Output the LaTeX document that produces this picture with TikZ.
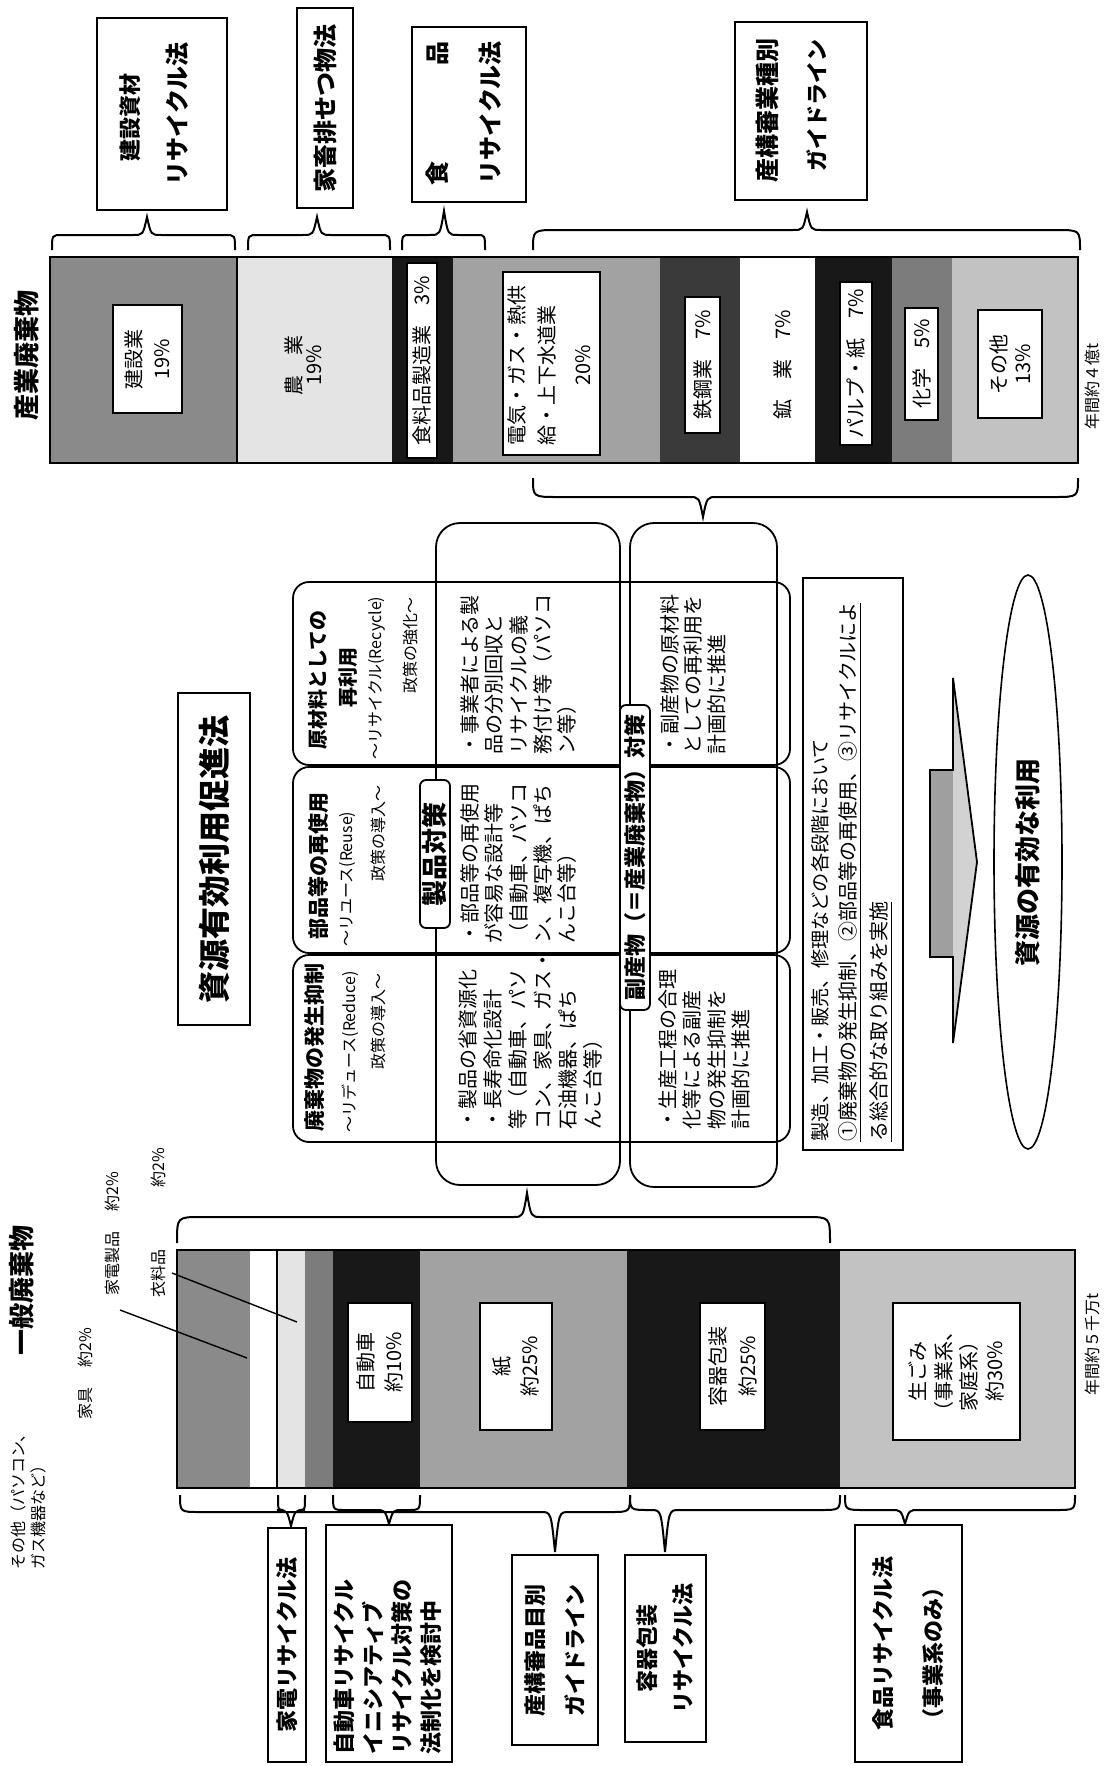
\documentclass[tikz,border=0pt]{standalone}
\usepackage{fontspec}
\setmainfont{Noto Sans CJK JP}
\usetikzlibrary{fit,shapes.geometric}
\definecolor{gA}{HTML}{8A8A8A}
\definecolor{gB}{HTML}{E4E4E4}
\definecolor{gC}{HTML}{181818}
\definecolor{gD}{HTML}{A2A2A2}
\definecolor{gE}{HTML}{3A3A3A}
\definecolor{gF}{HTML}{7C7C7C}
\definecolor{gG}{HTML}{C2C2C2}
\newcommand\mybr[7]{\draw[brc] (#1,#4) .. controls (#1,#5) .. (#1+#7,#5) -- (#3-14,#5) .. controls (#3-4,#5) .. (#3,#6) .. controls (#3+4,#5) .. (#3+14,#5) -- (#2-#7,#5) .. controls (#2,#5) .. (#2,#4);}
\newcommand\myfs[2]{\fontsize{#1}{#2}\selectfont}
\begin{document}
\begin{tikzpicture}[x=0.5pt,y=-0.5pt,
  rt/.style={rotate=90,inner sep=0pt},
  bx/.style={draw,line width=0.8pt,fill=white,inner sep=0pt},
  brc/.style={line width=1pt},
  ln/.style={line width=0.9pt},
  ldr/.style={line width=0.7pt}]
\fill[white] (0,0) rectangle (1110,1766);
\useasboundingbox (0,0) rectangle (1110,1766);
% ===== 産業廃棄物 bar =====
\node[rt,font=\bfseries\myfs{13pt}{13pt}] (t1) at (27,355) {産業廃棄物};
\fill[gA] (50,257) rectangle (237,463);
\fill[gB] (237,257) rectangle (392,463);
\fill[gC] (392,257) rectangle (453,463);
\fill[gD] (453,257) rectangle (660,463);
\fill[gE] (660,257) rectangle (740,463);
\fill[white] (740,257) rectangle (815,463);
\fill[gC] (815,257) rectangle (892,463);
\fill[gF] (892,257) rectangle (952,463);
\fill[gG] (952,257) rectangle (1078,463);
\draw[ln] (237,257) -- (237,463);
\node[draw,line width=1pt,fit={(50,257) (1078,463)},inner sep=0pt] (ibar) {};
\node[bx,fit={(113,305) (182,413)}] (b1) {};
\node[rt,align=center,font=\myfs{10pt}{14pt}] at (b1) {建設業\\19\%};
\node[rt,align=center,font=\myfs{10pt}{10pt}] (b2) at (303,365) {農　業\\19\%};
\node[bx,fit={(407,263) (437,458)}] (b3) {};
\node[rt,font=\myfs{10pt}{10pt}] at (b3) {食料品製造業　3\%};
\node[bx,fit={(503,272) (600,455)}] (b4) {};
\node[rt,anchor=west,font=\myfs{10pt}{10pt}] at (517,446) {電気・ガス・熱供};
\node[rt,anchor=west,font=\myfs{10pt}{10pt}] at (547,446) {給・上下水道業};
\node[rt,font=\myfs{10pt}{10pt}] at (583,365) {20\%};
\node[bx,fit={(685,297) (720,433)}] (b5) {};
\node[rt,font=\myfs{10pt}{10pt}] at (b5) {鉄鋼業　7\%};
\node[rt,font=\myfs{10pt}{10pt}] (b6) at (783,365) {鉱　業　7\%};
\node[bx,fit={(840,282) (872,445)}] (b7) {};
\node[rt,font=\myfs{10pt}{10pt}] at (b7) {パルプ・紙　7\%};
\node[bx,fit={(905,308) (938,420)}] (b8) {};
\node[rt,font=\myfs{10pt}{10pt}] at (b8) {化学　5\%};
\node[bx,fit={(978,310) (1042,418)}] (b9) {};
\node[rt,align=center,font=\myfs{10pt}{12pt}] at (b9) {その他\\13\%};
\node[rt,anchor=east,font=\myfs{8pt}{8pt}] (t2) at (1092,343) {年間約４億t};
% top law boxes
\node[bx,fit={(97,18) (227,210)}] (L1) {};
\node[rt,font=\bfseries\myfs{11pt}{11pt}] at (130,118) {建設資材};
\node[rt,font=\bfseries\myfs{12pt}{12pt}] at (177,114) {リサイクル法};
\node[bx,fit={(297,8) (353,208)}] (L2) {};
\node[rt,font=\bfseries\myfs{12pt}{12pt}] at (L2) {家畜排せつ物法};
\node[bx,fit={(412,27) (526,202)}] (L3) {};
\node[rt,font=\bfseries\myfs{12pt}{12pt}] at (437,113) {食\hspace{48pt}品};
\node[rt,font=\bfseries\myfs{12pt}{12pt}] at (490,113) {リサイクル法};
\node[bx,fit={(735,22) (867,200)}] (L4) {};
\node[rt,font=\bfseries\myfs{12pt}{12pt}] at (767,111) {産構審業種別};
\node[rt,font=\bfseries\myfs{11pt}{11pt}] at (817,105) {ガイドライン};
% braces
\mybr{52}{235}{147}{250}{235}{217}{10}
\mybr{248}{390}{317}{250}{235}{217}{10}
\mybr{402}{485}{444}{250}{235}{211}{8}
\mybr{533}{1080}{807}{250}{230}{212}{24}
\mybr{533}{1078}{703}{478}{497}{517}{24}
% ===== middle =====
\node[draw,line width=1pt,fit={(178,693) (250,1025)},inner sep=0pt] (M0) {};
\node[rt,font=\bfseries\myfs{16pt}{16pt}] at (M0) {資源有効利用促進法};
\draw[ln,rounded corners=8pt] (293,582) rectangle (790,765);
\draw[ln,rounded corners=8pt] (293,767) rectangle (790,953);
\draw[ln,rounded corners=8pt] (293,955) rectangle (790,1142);
\draw[ln,rounded corners=12pt] (436,523) rectangle (620,1185);
\draw[ln,rounded corners=12pt] (630,523) rectangle (777,1187);
% headers
\node[rt,font=\bfseries\myfs{10pt}{10pt}] at (318,680) {原材料としての};
\node[rt,font=\bfseries\myfs{10pt}{10pt}] at (348,677) {再利用};
\node[rt,anchor=west,font=\myfs{8pt}{8pt}] at (377,760) {～リサイクル(Recycle)};
\node[rt,anchor=east,font=\myfs{8pt}{8pt}] at (410,597) {政策の強化～};
\node[rt,font=\bfseries\myfs{10.5pt}{10.5pt}] at (318,866) {部品等の再使用};
\node[rt,anchor=west,font=\myfs{8pt}{8pt}] at (348,947) {～リユース(Reuse)};
\node[rt,anchor=east,font=\myfs{8pt}{8pt}] at (378,785) {政策の導入～};
\node[rt,font=\bfseries\myfs{10.5pt}{10.5pt}] at (315,1047) {廃棄物の発生抑制};
\node[rt,anchor=west,font=\myfs{8pt}{8pt}] at (350,1133) {～リデュース(Reduce)};
\node[rt,anchor=east,font=\myfs{8pt}{8pt}] at (378,973) {政策の導入～};
% cells
\node[rt,anchor=north west,align=left,font=\myfs{10pt}{12.2pt}] at (460,755) {・事業者による製\\品の分別回収と\\リサイクルの義\\務付け等（パソコ\\ン等）};
\node[rt,anchor=north west,align=left,font=\myfs{10pt}{12.2pt}] at (460,944) {・部品等の再使用\\が容易な設計等\\（自動車、パソコ\\ン、複写機、ぱち\\んこ台等）};
\node[rt,anchor=north west,align=left,font=\myfs{10pt}{12.5pt}] at (458,1130) {・製品の省資源化\\・長寿命化設計\\等（自動車、パソ\\コン、家具、ガス・\\石油機器、ぱち\\んこ台等）};
\node[rt,anchor=north west,align=left,font=\myfs{10pt}{11.8pt}] at (660,755) {・副産物の原材料\\としての再利用を\\計画的に推進};
\node[rt,anchor=north west,align=left,font=\myfs{10pt}{12.2pt}] at (658,1130) {・生産工程の合理\\化等による副産\\物の発生抑制を\\計画的に推進};
% column labels
\node[draw,line width=0.9pt,fill=white,rounded corners=3pt,fit={(420,780) (450,928)},inner sep=0pt] (P1) {};
\node[rt,font=\bfseries\myfs{13pt}{13pt}] at (P1) {製品対策};
\node[draw,line width=0.9pt,fill=white,rounded corners=3pt,fit={(620,705) (650,1010)},inner sep=0pt] (P2) {};
\node[rt,font=\bfseries\myfs{11pt}{11pt}] at (P2) {副産物（＝産業廃棄物）対策};
% right box
\node[draw,line width=0.9pt,fit={(803,578) (903,1150)},inner sep=0pt] (R1) {};
\node[rt,anchor=west,font=\myfs{9.6pt}{9.6pt}] at (820,1142) {製造、加工・販売、修理などの各段階において};
\node[rt,anchor=west,font=\myfs{10pt}{10pt}] at (850,1142) {\underline{①廃棄物の発生抑制、②部品等の再使用、③リサイクルによ}};
\node[rt,anchor=west,font=\myfs{10pt}{10pt}] at (881,1142) {\underline{る総合的な取り組みを実施}};
% arrow
\fill[gray!35] (953,678) -- (977,862) -- (953,1043) -- cycle;
\fill[gray!75] (930,770) rectangle (953,957);
\draw[line width=0.9pt] (930,770) -- (953,770) -- (953,678) -- (977,862) -- (953,1043) -- (953,957) -- (930,957) -- cycle;
\node[draw,ellipse,line width=0.8pt,minimum width=34pt,minimum height=287pt,inner sep=0pt] (E1) at (1028,862) {};
\node[rt,font=\bfseries\myfs{13pt}{13pt}] at (E1) {資源の有効な利用};
% ===== 一般廃棄物 bar =====
\mybr{177}{830}{527}{1243}{1217}{1193}{24}
\node[rt,font=\bfseries\myfs{13pt}{13pt}] (t3) at (22,1290) {一般廃棄物};
\fill[gA] (177,1250) rectangle (250,1488);
\fill[white] (250,1250) rectangle (277,1488);
\fill[gB] (277,1250) rectangle (305,1488);
\fill[gF] (305,1250) rectangle (333,1488);
\fill[gC] (333,1250) rectangle (420,1488);
\fill[gD] (420,1250) rectangle (627,1488);
\fill[gC] (627,1250) rectangle (840,1488);
\fill[gG] (840,1250) rectangle (1075,1488);
\draw[ln] (277,1250) -- (277,1488);
\node[draw,line width=1pt,fit={(177,1250) (1075,1488)},inner sep=0pt] (gbar) {};
\node[bx,fit={(348,1303) (412,1422)}] (c1) {};
\node[rt,align=center,font=\myfs{10pt}{14pt}] at (c1) {自動車\\約10\%};
\node[bx,fit={(480,1303) (552,1430)}] (c2) {};
\node[rt,align=center,font=\myfs{10pt}{14pt}] at (c2) {紙\\約25\%};
\node[bx,fit={(700,1303) (765,1430)}] (c3) {};
\node[rt,align=center,font=\myfs{10pt}{15pt}] at (c3) {容器包装\\約25\%};
\node[bx,fit={(893,1303) (1020,1440)}] (c4) {};
\node[rt,align=center,font=\myfs{10pt}{12.8pt}] at (c4) {生ごみ\\（事業系、\\家庭系）\\約30\%};
\node[rt,anchor=east,font=\myfs{8pt}{8pt}] (t4) at (1092,1293) {年間約５千万t};
% leaders
\node[rt,anchor=west,font=\myfs{8pt}{8pt}] (q1) at (158,1298) {衣料品\hspace{31pt}約2\%};
\coordinate (q1a) at (172,1273);
\coordinate (q1b) at (297,1322);
\draw[ldr] (q1a) -- (q1b);
\node[rt,anchor=west,font=\myfs{8pt}{8pt}] (q2) at (112,1296) {家電製品\hspace{10pt}約2\%};
\coordinate (q2a) at (120,1310);
\coordinate (q2b) at (247,1358);
\draw[ldr] (q2a) -- (q2b);
\node[rt,anchor=west,font=\myfs{8pt}{8pt}] (q3) at (85,1420) {家具\hspace{10pt}約2\%};
\node[rt,anchor=west,align=left,font=\myfs{8pt}{10pt}] (q4) at (28,1570) {その他（パソコン、\\ガス機器など）};
% bottom braces
\mybr{278}{305}{291}{1495}{1510}{1526}{5}
\mybr{333}{420}{389}{1495}{1510}{1524}{12}
\mybr{180}{630}{555}{1495}{1512}{1552}{20}
\mybr{630}{840}{665}{1495}{1510}{1552}{20}
\mybr{845}{1075}{905}{1495}{1510}{1524}{20}
% bottom boxes
\node[bx,fit={(268,1528) (306,1762)}] (D1) {};
\node[rt,font=\bfseries\myfs{11pt}{11pt}] at (D1) {家電リサイクル法};
\node[bx,fit={(326,1525) (452,1762)}] (D2) {};
\node[rt,anchor=north west,align=left,font=\bfseries\myfs{11pt}{14.5pt}] at (333,1755) {自動車リサイクル\\イニシアティブ\\リサイクル対策の\\法制化を検討中};
\node[bx,fit={(512,1555) (598,1745)}] (D3) {};
\node[rt,align=center,font=\bfseries\myfs{11pt}{20pt}] at (D3) {産構審品目別\\ガイドライン};
\node[bx,fit={(625,1555) (706,1742)}] (D4) {};
\node[rt,align=center,font=\bfseries\myfs{11pt}{18pt}] at (D4) {容器包装\\リサイクル法};
\node[bx,fit={(855,1525) (962,1762)}] (D5) {};
\node[rt,align=left,font=\bfseries\myfs{11pt}{25pt}] at (D5) {食品リサイクル法\\（事業系のみ）};
\end{tikzpicture}
\end{document}
